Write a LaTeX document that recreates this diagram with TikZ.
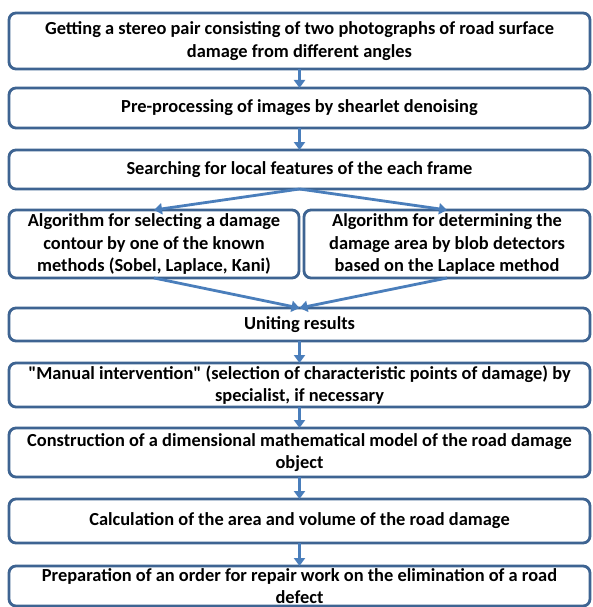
\documentclass[tikz,border=0pt]{standalone}
\usepackage{fontspec}
\setmainfont{Carlito}[Ligatures=TeXOff]
\usetikzlibrary{arrows.meta}
\definecolor{boxline}{RGB}{62,100,146}
\definecolor{arrowc}{RGB}{74,126,187}
\begin{document}
\begin{tikzpicture}[x=1pt,y=-1pt,
  stepbox/.style={draw=boxline, line width=2.8pt, rounded corners=7pt, fill=white,
    align=center, inner sep=0pt, outer sep=0pt,
    font=\fontsize{18.4}{22.5}\selectfont\bfseries},
  flow/.style={draw=arrowc, line width=2.8pt, -{Triangle[length=8pt,width=11pt]}}]
\useasboundingbox (0,0) rectangle (592,607);
\clip (0,0) rectangle (592,607);
\fill[white] (0,0) rectangle (592,607);
\node[stepbox, minimum width=581pt, minimum height=56pt] (b1) at (299.5,41)
  {Getting a stereo pair consisting of two photographs of road surface\\damage from different angles};
\node[stepbox, minimum width=581pt, minimum height=40pt] (b2) at (299.5,108)
  {Pre-processing of images by shearlet denoising};
\node[stepbox, minimum width=581pt, minimum height=39pt] (b3) at (299.5,169.5)
  {Searching for local features of the each frame};
\node[stepbox, minimum width=290pt, minimum height=68pt] (bl) at (154,244)
  {Algorithm for selecting a damage\\contour by one of the known\\methods (Sobel, Laplace, Kani)};
\node[stepbox, minimum width=286pt, minimum height=68pt] (br) at (447,244)
  {Algorithm for determining the\\damage area by blob detectors\\based on the Laplace method};
\node[stepbox, minimum width=581pt, minimum height=33pt] (bu) at (299.5,324.5)
  {Uniting results};
\node[stepbox, minimum width=581pt, minimum height=44pt] (bm) at (299.5,385)
  {"Manual intervention" (selection of characteristic points of damage) by\\specialist, if necessary};
\node[stepbox, minimum width=581pt, minimum height=49pt] (bc) at (299.5,452.5)
  {Construction of a dimensional mathematical model of the road damage\\object};
\node[stepbox, minimum width=581pt, minimum height=44pt] (bca) at (299.5,521)
  {Calculation of the area and volume of the road damage};
\node[stepbox, minimum width=581pt, minimum height=40pt] (bp) at (299.5,586)
  {Preparation of an order for repair work on the elimination of a road\\defect};
\draw[flow] (b1.south) -- (b2.north);
\draw[flow] (b2.south) -- (b3.north);
\draw[flow] (b3.south) -- (bl.north);
\draw[flow] (b3.south) -- (br.north);
\draw[flow] (bl.south) -- (bu.north);
\draw[flow] (br.south) -- (bu.north);
\draw[flow] (bu.south) -- (bm.north);
\draw[flow] (bm.south) -- (bc.north);
\draw[flow] (bc.south) -- (bca.north);
\draw[flow] (bca.south) -- (bp.north);
\end{tikzpicture}
\end{document}
